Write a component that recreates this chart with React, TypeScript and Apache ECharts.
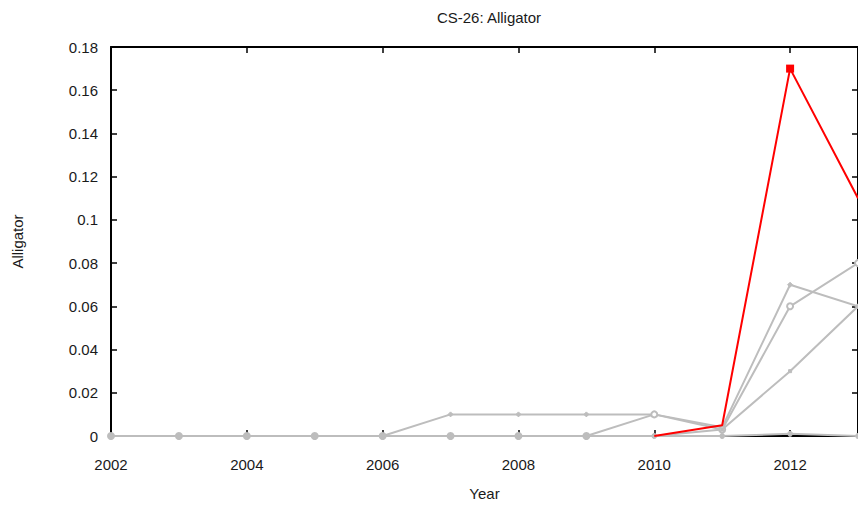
import React, { useEffect, useRef } from "react";
import * as echarts from "echarts";

const years = [2002, 2003, 2004, 2005, 2006, 2007, 2008, 2009, 2010, 2011, 2012, 2013];
const redSeries = [null, null, null, null, null, null, null, null, 0, 0.005, 0.17, 0.11];
const graySeriesA = [0, 0, 0, 0, 0, 0.01, 0.01, 0.01, 0.01, 0.004, 0.07, 0.06];
const graySeriesB = [0, 0, 0, 0, 0, 0, 0, 0, 0.01, 0.003, 0.06, 0.08];
const graySeriesC = [0, 0, 0, 0, 0, 0, 0, 0, 0, 0.003, 0.03, 0.06];
const graySeriesD = [0, 0, 0, 0, 0, 0, 0, 0, 0, 0, 0.001, 0];
const xTicks = [2002, 2004, 2006, 2008, 2010, 2012];
const yTicks = [0, 0.02, 0.04, 0.06, 0.08, 0.1, 0.12, 0.14, 0.16, 0.18];
const redMarkedYear = 2012;

const FONT = "'Liberation Sans', Arial, sans-serif";
const GRAY = "#bdbdbd";
const TEXT = "#1a1a1a";

export default function App() {
  const ref = useRef<HTMLDivElement>(null);
  useEffect(() => {
    if (!ref.current) return;
    const chart = echarts.init(ref.current, undefined, { renderer: "svg" });
    const pair = (arr: (number | null)[]) => years.map((y, i) => [y, arr[i]]);
    const gray = (name: string, arr: number[], symbol: string, size: number) => ({
      name,
      type: "line",
      data: pair(arr),
      symbol,
      symbolSize: size,
      showSymbol: true,
      lineStyle: { color: GRAY, width: 2 },
      itemStyle: { color: GRAY, borderColor: GRAY },
      z: 2,
    });
    const baseX = {
      type: "value",
      min: 2002,
      max: 2013,
      interval: 1,
      splitLine: { show: false },
      axisLine: { show: true, onZero: false, lineStyle: { color: "#000", width: 2 } },
      axisTick: { show: true, inside: true, length: 6, lineStyle: { color: "#000", width: 1.5 }, customValues: xTicks },
    };
    const baseY = {
      type: "value",
      min: 0,
      max: 0.18,
      interval: 0.02,
      splitLine: { show: false },
      axisLine: { show: true, onZero: false, lineStyle: { color: "#000", width: 2 } },
      axisTick: { show: true, inside: true, length: 6, lineStyle: { color: "#000", width: 1.5 } },
    };
    const redData = years.map((y, i) =>
      y === redMarkedYear
        ? { value: [y, redSeries[i]], symbol: "rect", symbolSize: 8 }
        : { value: [y, redSeries[i]] }
    );
    chart.setOption({
      animation: false,
      backgroundColor: "#fff",
      title: {
        text: "CS-26: Alligator",
        left: 484,
        top: 5,
        textAlign: "center",
        textStyle: { fontFamily: FONT, fontSize: 15, fontWeight: "normal", color: TEXT },
      },
      grid: { left: 111, top: 47, width: 748, height: 389 },
      xAxis: [
        {
          ...baseX,
          position: "bottom",
          name: "Year",
          nameLocation: "middle",
          nameGap: 50,
          nameTextStyle: { fontFamily: FONT, fontSize: 15, color: TEXT },
          axisLabel: {
            fontFamily: FONT,
            fontSize: 15,
            color: TEXT,
            margin: 21,
            customValues: xTicks,
            formatter: (v: number) => String(v),
          },
        },
        { ...baseX, position: "top", axisLabel: { show: false } },
      ],
      yAxis: [
        {
          ...baseY,
          position: "left",
          name: "Alligator",
          nameLocation: "middle",
          nameGap: 86,
          nameRotate: 90,
          nameTextStyle: { fontFamily: FONT, fontSize: 15, color: TEXT },
          axisLabel: {
            fontFamily: FONT,
            fontSize: 15,
            color: TEXT,
            margin: 13,
            formatter: (v: number) => {
              const r = Math.round(v * 100) / 100;
              return yTicks.includes(r) ? String(r) : "";
            },
          },
        },
        { ...baseY, position: "right", axisLabel: { show: false } },
      ],
      series: [
        gray("A", graySeriesA, "diamond", 5),
        gray("B", graySeriesB, "emptyCircle", 6),
        gray("C", graySeriesC, "rect", 3),
        gray("D", graySeriesD, "circle", 5),
        {
          name: "Red",
          type: "line",
          data: redData,
          symbol: "none",
          showSymbol: true,
          lineStyle: { color: "#ff0000", width: 2 },
          itemStyle: { color: "#ff0000" },
          z: 3,
        },
      ],
    });
    return () => chart.dispose();
  }, []);
  return (
    <div style={{ position: "absolute", left: 0, top: 0, width: 858, height: 507, overflow: "hidden" }}>
      <div ref={ref} style={{ width: 858, height: 507 }} />
    </div>
  );
}
